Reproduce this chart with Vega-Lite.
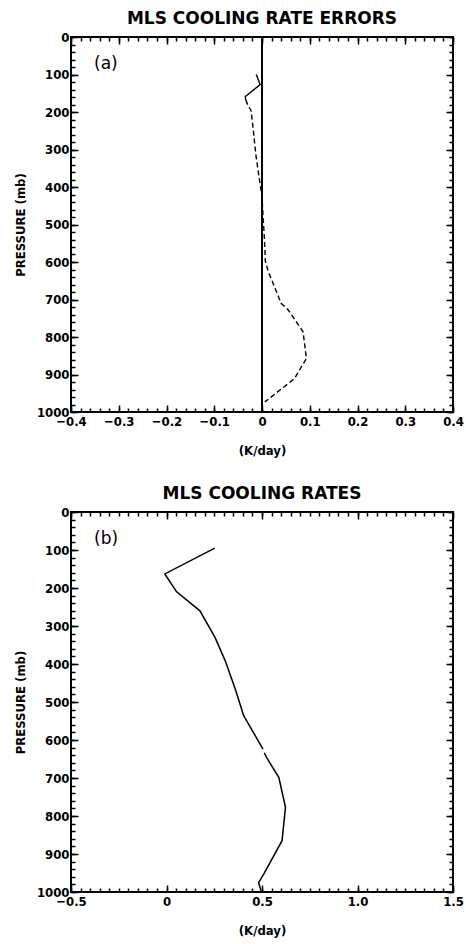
{
  "$schema": "https://vega.github.io/schema/vega-lite/v6.json",
  "background": "white",
  "padding": {"left": 13, "top": 9, "right": 4, "bottom": 2},
  "spacing": 26,
  "datasets": {
    "errors": [
      {"series": "solid", "p": 100, "k": -0.012},
      {"series": "solid", "p": 127, "k": -0.004},
      {"series": "solid", "p": 159, "k": -0.035},
      {"series": "solid", "p": 168, "k": -0.034},
      {"series": "dashed", "p": 168, "k": -0.034},
      {"series": "dashed", "p": 183, "k": -0.029},
      {"series": "dashed", "p": 196, "k": -0.023},
      {"series": "dashed", "p": 250, "k": -0.018},
      {"series": "dashed", "p": 313, "k": -0.013},
      {"series": "dashed", "p": 375, "k": -0.006},
      {"series": "dashed", "p": 424, "k": 0.0},
      {"series": "dashed", "p": 473, "k": 0.002},
      {"series": "dashed", "p": 536, "k": 0.005},
      {"series": "dashed", "p": 598, "k": 0.007},
      {"series": "dashed", "p": 625, "k": 0.013},
      {"series": "dashed", "p": 710, "k": 0.04},
      {"series": "dashed", "p": 728, "k": 0.055},
      {"series": "dashed", "p": 786, "k": 0.086},
      {"series": "dashed", "p": 857, "k": 0.093},
      {"series": "dashed", "p": 911, "k": 0.068},
      {"series": "dashed", "p": 973, "k": 0.006}
    ],
    "rates": [
      {"seg": "a", "p": 95, "k": 0.253},
      {"seg": "a", "p": 163, "k": -0.009},
      {"seg": "a", "p": 210, "k": 0.053},
      {"seg": "a", "p": 260, "k": 0.175},
      {"seg": "a", "p": 330, "k": 0.254},
      {"seg": "a", "p": 391, "k": 0.307},
      {"seg": "a", "p": 466, "k": 0.36},
      {"seg": "a", "p": 536, "k": 0.404},
      {"seg": "a", "p": 624, "k": 0.505},
      {"seg": "b", "p": 634, "k": 0.512},
      {"seg": "b", "p": 648, "k": 0.526},
      {"seg": "b", "p": 698, "k": 0.588},
      {"seg": "b", "p": 777, "k": 0.623},
      {"seg": "b", "p": 865, "k": 0.605},
      {"seg": "b", "p": 953, "k": 0.509},
      {"seg": "b", "p": 975, "k": 0.482},
      {"seg": "b", "p": 997, "k": 0.495}
    ],
    "zero": [{"k": 0}]
  },
  "config": {
    "view": {"stroke": "black", "strokeWidth": 2},
    "axis": {
      "grid": false,
      "domain": false,
      "tickColor": "black",
      "tickWidth": 1.5,
      "labelColor": "black",
      "labelFont": "DejaVu Sans Condensed, Liberation Sans Narrow, sans-serif",
      "labelFontSize": 13,
      "labelFontWeight": "bold",
      "titleColor": "black",
      "titleFont": "DejaVu Sans Condensed, Liberation Sans Narrow, sans-serif",
      "titleFontSize": 13,
      "titleFontWeight": "bold"
    },
    "title": {
      "font": "DejaVu Sans",
      "fontSize": 17,
      "fontWeight": "bold",
      "color": "black",
      "frame": "group",
      "anchor": "middle",
      "offset": 3
    }
  },
  "vconcat": [
    {
      "title": "MLS COOLING RATE ERRORS",
      "width": 382,
      "height": 375,
      "data": {"name": "errors"},
      "resolve": {"axis": {"x": "independent", "y": "independent"}},
      "layer": [
        {
          "mark": {"type": "line", "color": "black", "strokeWidth": 1.4},
          "encoding": {
            "x": {"field": "k", "type": "quantitative", "scale": {"domain": [-0.4, 0.4], "nice": false, "zero": false},
              "axis": {"orient": "bottom", "title": "(K/day)", "values": [-0.4, -0.3, -0.2, -0.1, 0, 0.1, 0.2, 0.3, 0.4], "tickSize": -7, "labelPadding": 10, "titlePadding": 16, "labelExpr": "datum.value == 0 ? '0' : format(datum.value, '.1f')", "labelFlush": false, "labelOverlap": false}},
            "y": {"field": "p", "type": "quantitative", "scale": {"domain": [0, 1000], "reverse": true, "nice": false, "zero": false},
              "axis": {"orient": "left", "title": "PRESSURE  (mb)", "format": "d", "values": [0, 100, 200, 300, 400, 500, 600, 700, 800, 900, 1000], "tickSize": -7, "labelPadding": 9, "titlePadding": 9, "labelFlush": false, "labelOverlap": false}},
            "order": {"field": "p", "type": "quantitative"},
            "detail": {"field": "series"},
            "strokeDash": {"field": "series", "type": "nominal", "scale": {"domain": ["solid", "dashed"], "range": [[1, 0], [5, 3]]}, "legend": null}
          }
        },
        {
          "mark": {"type": "line", "strokeOpacity": 0},
          "encoding": {
            "x": {"field": "k", "type": "quantitative", "scale": {"domain": [-0.4, 0.4], "nice": false, "zero": false},
              "axis": {"orient": "bottom", "title": null, "labels": false, "tickSize": -4, "values": [-0.4, -0.38, -0.36, -0.34, -0.32, -0.3, -0.28, -0.26, -0.24, -0.22, -0.2, -0.18, -0.16, -0.14, -0.12, -0.1, -0.08, -0.06, -0.04, -0.02, 0, 0.02, 0.04, 0.06, 0.08, 0.1, 0.12, 0.14, 0.16, 0.18, 0.2, 0.22, 0.24, 0.26, 0.28, 0.3, 0.32, 0.34, 0.36, 0.38, 0.4]}},
            "y": {"field": "p", "type": "quantitative", "scale": {"domain": [0, 1000], "reverse": true, "nice": false, "zero": false},
              "axis": {"orient": "left", "title": null, "labels": false, "tickSize": -4, "values": [0, 20, 40, 60, 80, 100, 120, 140, 160, 180, 200, 220, 240, 260, 280, 300, 320, 340, 360, 380, 400, 420, 440, 460, 480, 500, 520, 540, 560, 580, 600, 620, 640, 660, 680, 700, 720, 740, 760, 780, 800, 820, 840, 860, 880, 900, 920, 940, 960, 980, 1000]}},
            "order": {"field": "p", "type": "quantitative"},
            "detail": {"field": "series"}
          }
        },
        {
          "mark": {"type": "line", "strokeOpacity": 0},
          "encoding": {
            "x": {"field": "k", "type": "quantitative", "scale": {"domain": [-0.4, 0.4], "nice": false, "zero": false},
              "axis": {"orient": "top", "title": null, "labels": false, "tickSize": -7, "values": [-0.4, -0.3, -0.2, -0.1, 0, 0.1, 0.2, 0.3, 0.4]}},
            "y": {"field": "p", "type": "quantitative", "scale": {"domain": [0, 1000], "reverse": true, "nice": false, "zero": false},
              "axis": {"orient": "right", "title": null, "labels": false, "tickSize": -7, "values": [0, 100, 200, 300, 400, 500, 600, 700, 800, 900, 1000]}},
            "order": {"field": "p", "type": "quantitative"},
            "detail": {"field": "series"}
          }
        },
        {
          "mark": {"type": "line", "strokeOpacity": 0},
          "encoding": {
            "x": {"field": "k", "type": "quantitative", "scale": {"domain": [-0.4, 0.4], "nice": false, "zero": false},
              "axis": {"orient": "top", "title": null, "labels": false, "tickSize": -4, "values": [-0.4, -0.38, -0.36, -0.34, -0.32, -0.3, -0.28, -0.26, -0.24, -0.22, -0.2, -0.18, -0.16, -0.14, -0.12, -0.1, -0.08, -0.06, -0.04, -0.02, 0, 0.02, 0.04, 0.06, 0.08, 0.1, 0.12, 0.14, 0.16, 0.18, 0.2, 0.22, 0.24, 0.26, 0.28, 0.3, 0.32, 0.34, 0.36, 0.38, 0.4]}},
            "y": {"field": "p", "type": "quantitative", "scale": {"domain": [0, 1000], "reverse": true, "nice": false, "zero": false},
              "axis": {"orient": "right", "title": null, "labels": false, "tickSize": -4, "values": [0, 20, 40, 60, 80, 100, 120, 140, 160, 180, 200, 220, 240, 260, 280, 300, 320, 340, 360, 380, 400, 420, 440, 460, 480, 500, 520, 540, 560, 580, 600, 620, 640, 660, 680, 700, 720, 740, 760, 780, 800, 820, 840, 860, 880, 900, 920, 940, 960, 980, 1000]}},
            "order": {"field": "p", "type": "quantitative"},
            "detail": {"field": "series"}
          }
        },
        {
          "data": {"name": "zero"},
          "mark": {"type": "rule", "color": "black", "strokeWidth": 2},
          "encoding": {
            "x": {"field": "k", "type": "quantitative", "scale": {"domain": [-0.4, 0.4], "nice": false, "zero": false}, "axis": null}
          }
        },
        {
          "data": {"values": [{"label": "(a)"}]},
          "mark": {"type": "text", "font": "DejaVu Sans", "fontSize": 17, "color": "black", "align": "left", "baseline": "top", "x": 23, "y": 19},
          "encoding": {"text": {"field": "label"}}
        }
      ]
    },
    {
      "title": "MLS COOLING RATES",
      "width": 382,
      "height": 380,
      "data": {"name": "rates"},
      "resolve": {"axis": {"x": "independent", "y": "independent"}},
      "layer": [
        {
          "mark": {"type": "line", "color": "black", "strokeWidth": 1.5},
          "encoding": {
            "x": {"field": "k", "type": "quantitative", "scale": {"domain": [-0.5, 1.5], "nice": false, "zero": false},
              "axis": {"orient": "bottom", "title": "(K/day)", "values": [-0.5, 0, 0.5, 1, 1.5], "tickSize": -7, "labelPadding": 10, "titlePadding": 16, "labelExpr": "datum.value == 0 ? '0' : format(datum.value, '.1f')", "labelFlush": false, "labelOverlap": false}},
            "y": {"field": "p", "type": "quantitative", "scale": {"domain": [0, 1000], "reverse": true, "nice": false, "zero": false},
              "axis": {"orient": "left", "title": "PRESSURE  (mb)", "format": "d", "values": [0, 100, 200, 300, 400, 500, 600, 700, 800, 900, 1000], "tickSize": -7, "labelPadding": 9, "titlePadding": 9, "labelFlush": false, "labelOverlap": false}},
            "order": {"field": "p", "type": "quantitative"},
            "detail": {"field": "seg"}
          }
        },
        {
          "mark": {"type": "line", "strokeOpacity": 0},
          "encoding": {
            "x": {"field": "k", "type": "quantitative", "scale": {"domain": [-0.5, 1.5], "nice": false, "zero": false},
              "axis": {"orient": "bottom", "title": null, "labels": false, "tickSize": -4, "values": [-0.5, -0.45, -0.4, -0.35, -0.3, -0.25, -0.2, -0.15, -0.1, -0.05, 0, 0.05, 0.1, 0.15, 0.2, 0.25, 0.3, 0.35, 0.4, 0.45, 0.5, 0.55, 0.6, 0.65, 0.7, 0.75, 0.8, 0.85, 0.9, 0.95, 1, 1.05, 1.1, 1.15, 1.2, 1.25, 1.3, 1.35, 1.4, 1.45, 1.5]}},
            "y": {"field": "p", "type": "quantitative", "scale": {"domain": [0, 1000], "reverse": true, "nice": false, "zero": false},
              "axis": {"orient": "left", "title": null, "labels": false, "tickSize": -4, "values": [0, 20, 40, 60, 80, 100, 120, 140, 160, 180, 200, 220, 240, 260, 280, 300, 320, 340, 360, 380, 400, 420, 440, 460, 480, 500, 520, 540, 560, 580, 600, 620, 640, 660, 680, 700, 720, 740, 760, 780, 800, 820, 840, 860, 880, 900, 920, 940, 960, 980, 1000]}},
            "order": {"field": "p", "type": "quantitative"},
            "detail": {"field": "seg"}
          }
        },
        {
          "mark": {"type": "line", "strokeOpacity": 0},
          "encoding": {
            "x": {"field": "k", "type": "quantitative", "scale": {"domain": [-0.5, 1.5], "nice": false, "zero": false},
              "axis": {"orient": "top", "title": null, "labels": false, "tickSize": -7, "values": [-0.5, 0, 0.5, 1, 1.5]}},
            "y": {"field": "p", "type": "quantitative", "scale": {"domain": [0, 1000], "reverse": true, "nice": false, "zero": false},
              "axis": {"orient": "right", "title": null, "labels": false, "tickSize": -7, "values": [0, 100, 200, 300, 400, 500, 600, 700, 800, 900, 1000]}},
            "order": {"field": "p", "type": "quantitative"},
            "detail": {"field": "seg"}
          }
        },
        {
          "mark": {"type": "line", "strokeOpacity": 0},
          "encoding": {
            "x": {"field": "k", "type": "quantitative", "scale": {"domain": [-0.5, 1.5], "nice": false, "zero": false},
              "axis": {"orient": "top", "title": null, "labels": false, "tickSize": -4, "values": [-0.5, -0.45, -0.4, -0.35, -0.3, -0.25, -0.2, -0.15, -0.1, -0.05, 0, 0.05, 0.1, 0.15, 0.2, 0.25, 0.3, 0.35, 0.4, 0.45, 0.5, 0.55, 0.6, 0.65, 0.7, 0.75, 0.8, 0.85, 0.9, 0.95, 1, 1.05, 1.1, 1.15, 1.2, 1.25, 1.3, 1.35, 1.4, 1.45, 1.5]}},
            "y": {"field": "p", "type": "quantitative", "scale": {"domain": [0, 1000], "reverse": true, "nice": false, "zero": false},
              "axis": {"orient": "right", "title": null, "labels": false, "tickSize": -4, "values": [0, 20, 40, 60, 80, 100, 120, 140, 160, 180, 200, 220, 240, 260, 280, 300, 320, 340, 360, 380, 400, 420, 440, 460, 480, 500, 520, 540, 560, 580, 600, 620, 640, 660, 680, 700, 720, 740, 760, 780, 800, 820, 840, 860, 880, 900, 920, 940, 960, 980, 1000]}},
            "order": {"field": "p", "type": "quantitative"},
            "detail": {"field": "seg"}
          }
        },
        {
          "data": {"values": [{"label": "(b)"}]},
          "mark": {"type": "text", "font": "DejaVu Sans", "fontSize": 17, "color": "black", "align": "left", "baseline": "top", "x": 23, "y": 19},
          "encoding": {"text": {"field": "label"}}
        }
      ]
    }
  ]
}
